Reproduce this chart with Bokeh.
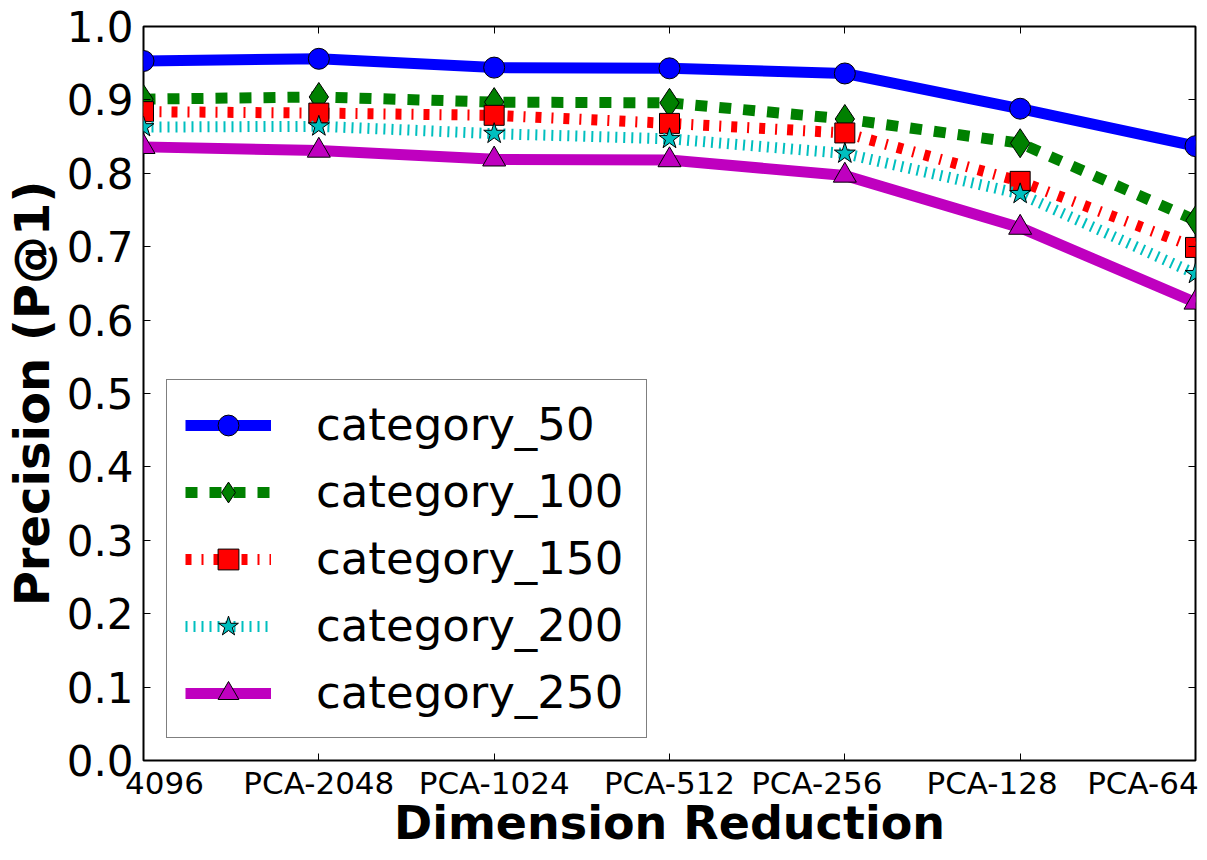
from bokeh.plotting import figure
from bokeh.models import (Range1d, FixedTicker, LinearAxis, Legend, LegendItem,
                          PrintfTickFormatter, ColumnDataSource)
from bokeh.embed import file_html
from bokeh.resources import INLINE

# ---------------- data ----------------
categories = ["4096", "PCA-2048", "PCA-1024", "PCA-512", "PCA-256", "PCA-128", "PCA-64"]
category_50 = [0.953, 0.956, 0.944, 0.943, 0.936, 0.888, 0.837]
category_100 = [0.901, 0.904, 0.897, 0.896, 0.874, 0.841, 0.736]
category_150 = [0.884, 0.882, 0.879, 0.868, 0.855, 0.789, 0.699]
category_200 = [0.863, 0.864, 0.854, 0.847, 0.827, 0.772, 0.663]
category_250 = [0.836, 0.831, 0.819, 0.818, 0.797, 0.726, 0.624]
series_names = ["category_50", "category_100", "category_150", "category_200", "category_250"]
series_values = [category_50, category_100, category_150, category_200, category_250]
y_ticks = [0.0, 0.1, 0.2, 0.3, 0.4, 0.5, 0.6, 0.7, 0.8, 0.9, 1.0]
x_title = "Dimension Reduction"
y_title = "Precision (P@1)"

# ---------------- styles (layout, not data) ----------------
colors = ["#0000ff", "#008000", "#ff0000", "#00bfbf", "#bf00bf"]
dashes = ["solid", "12 12", "6 10 2 10", "2 6", "solid"]
markers = ["circle", "diamond", "square", "star", "triangle"]
msizes = [21, 29, 20, 22, 23]
label_shift = [0.12, 0.0, 0.0, 0.0, -0.16, -0.16, -0.30]

FONT = "DejaVu Sans"
xs = list(range(len(categories)))

p = figure(width=1199, height=852, output_backend="svg", toolbar_location=None,
           x_range=Range1d(0, len(categories) - 1), y_range=Range1d(0, 1),
           min_border_left=0, min_border_right=4, min_border_top=26, min_border_bottom=0)
p.grid.visible = False
p.outline_line_color = "black"
p.outline_line_width = 2
p.background_fill_color = "white"
p.border_fill_color = "white"

# y axis (left)
ya = p.yaxis[0]
ya.ticker = FixedTicker(ticks=y_ticks)
ya.formatter = PrintfTickFormatter(format="%.1f")
ya.major_tick_in = 7
ya.major_tick_out = 0
ya.minor_tick_line_color = None
ya.axis_line_color = None
ya.major_label_text_font = FONT
ya.major_label_text_font_size = "42px"
ya.major_label_text_color = "black"
ya.major_label_standoff = 10
ya.axis_label = y_title
ya.axis_label_text_font = FONT
ya.axis_label_text_font_style = "bold"
ya.axis_label_text_font_size = "48px"
ya.axis_label_text_color = "black"
ya.axis_label_standoff = 4

# x axis (below): ticks only, at category positions
xa = p.xaxis[0]
xa.ticker = FixedTicker(ticks=xs)
xa.major_tick_in = 7
xa.major_tick_out = 0
xa.minor_tick_line_color = None
xa.axis_line_color = None
xa.major_label_overrides = {x: "" for x in xs}
xa.major_label_text_font_size = "1px"
xa.major_label_standoff = 0

# x axis (below): category labels + title
label_pos = [x + s for x, s in zip(xs, label_shift)]
xl = LinearAxis(ticker=FixedTicker(ticks=label_pos),
                major_label_overrides={lp: c for lp, c in zip(label_pos, categories)})
xl.major_tick_in = 0
xl.major_tick_out = 0
xl.minor_tick_line_color = None
xl.axis_line_color = None
xl.major_label_text_font = FONT
xl.major_label_text_font_size = "31px"
xl.major_label_text_color = "black"
xl.major_label_standoff = 4
xl.axis_label = x_title
xl.axis_label_text_font = FONT
xl.axis_label_text_font_style = "bold"
xl.axis_label_text_font_size = "46px"
xl.axis_label_text_color = "black"
xl.axis_label_standoff = -8
p.add_layout(xl, "below")

# mirror ticks: top and right
xt = LinearAxis(ticker=FixedTicker(ticks=xs), major_tick_in=7, major_tick_out=0,
                axis_line_color=None, minor_tick_line_color=None,
                major_label_overrides={x: "" for x in xs},
                major_label_text_font_size="1px", major_label_standoff=0)
p.add_layout(xt, "above")
yr = LinearAxis(ticker=FixedTicker(ticks=y_ticks), major_tick_in=7, major_tick_out=0,
                axis_line_color=None, minor_tick_line_color=None,
                major_label_overrides={y: "" for y in y_ticks},
                major_label_text_font_size="1px", major_label_standoff=0)
p.add_layout(yr, "right")

# ---------------- series ----------------
items = []
for name, vals, col, dash, mk, ms in zip(series_names, series_values, colors, dashes, markers, msizes):
    src = ColumnDataSource(dict(x=xs, y=vals))
    ln = p.line("x", "y", source=src, line_color=col, line_width=11, line_dash=dash)
    sc = p.scatter("x", "y", source=src, marker=mk, size=ms, fill_color=col,
                   line_color="black", line_width=1)
    items.append(LegendItem(label=name, renderers=[ln, sc]))

legend = Legend(items=items, location=(23, 22))
legend.label_text_font = FONT
legend.label_text_font_size = "45px"
legend.label_text_color = "black"
legend.glyph_width = 86
legend.glyph_height = 52
legend.label_height = 52
legend.label_width = 312
legend.label_standoff = 45
legend.spacing = 14
legend.padding = 18
legend.margin = 0
legend.border_line_color = "black"
legend.border_line_width = 1.5
legend.background_fill_color = "white"
legend.background_fill_alpha = 1
p.add_layout(legend, "center")

open("out.html", "w").write(file_html(p, INLINE))
